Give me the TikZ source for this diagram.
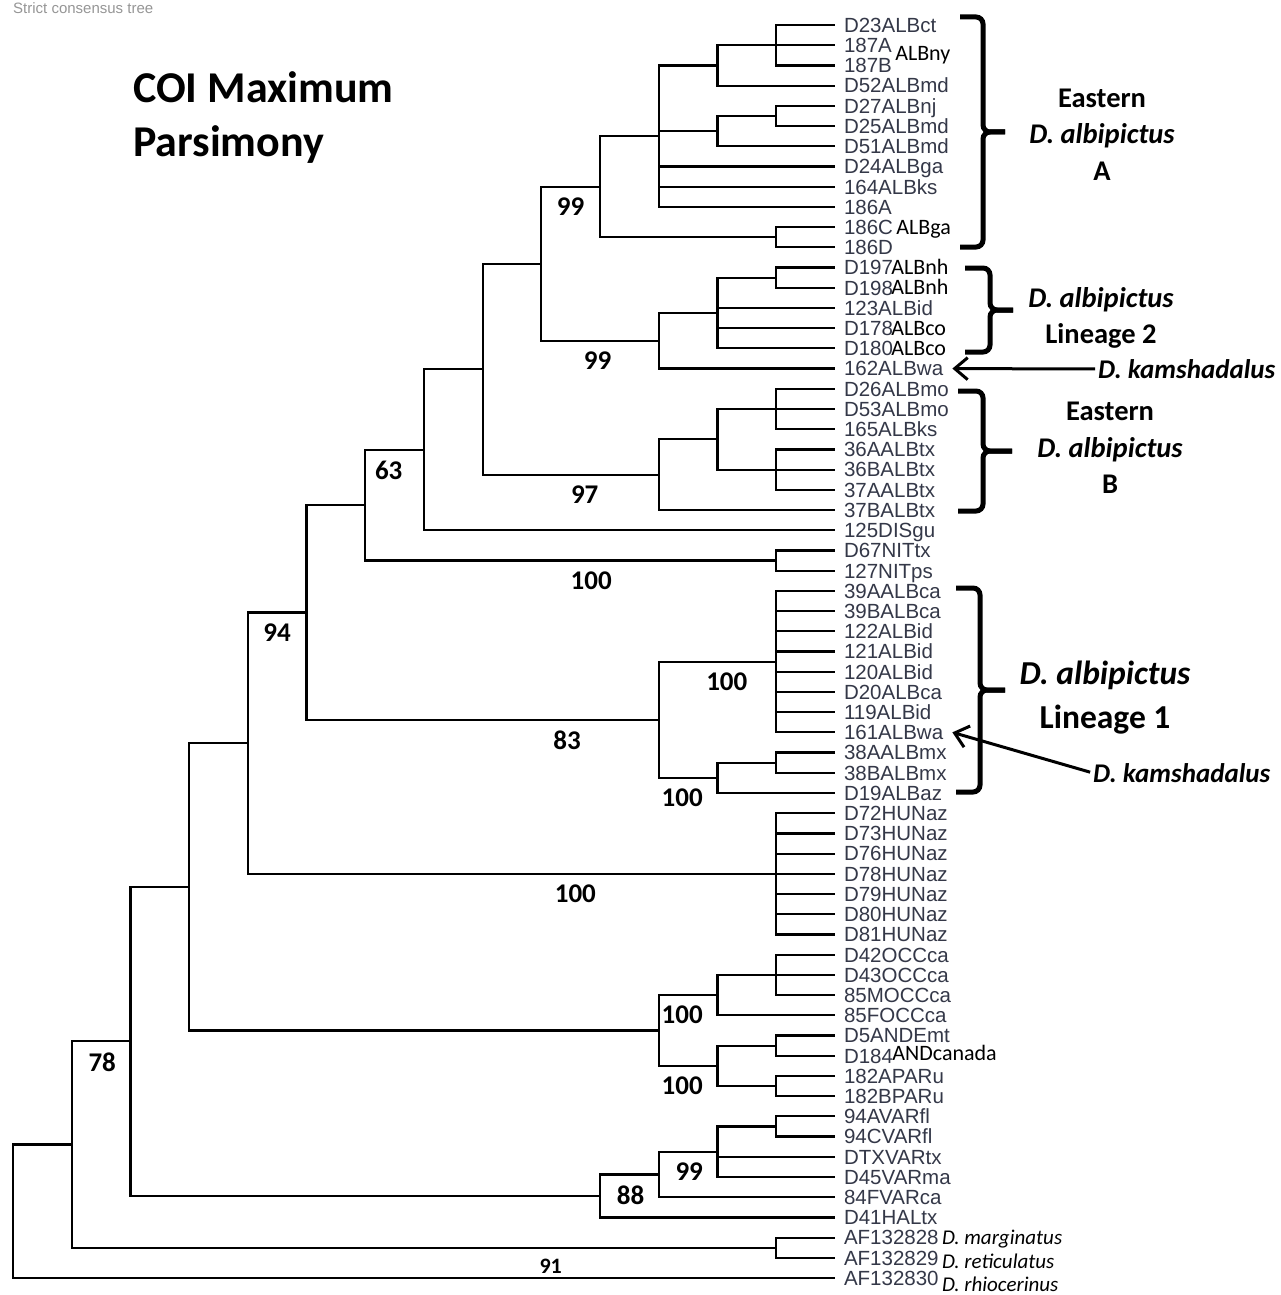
\documentclass[tikz,border=0pt]{standalone}
\usepackage{fontspec}
\setmainfont{Carlito}
\newfontfamily\leaffont{Liberation Sans}
\usetikzlibrary{arrows.meta,positioning}
\definecolor{LeafClr}{RGB}{52,56,72}
\definecolor{FaintClr}{RGB}{150,150,150}

\newcommand\Clade[2]{\foreach \ch in {#2} \draw[branch] (#1) |- (\ch);}
\newcommand\Brace[5]{%
  \draw[brace] (#1,#4) -- (#2,#4) -- (#2,{(#4+#5)/2}) -- (#3,{(#4+#5)/2});
  \draw[brace] (#1,#5) -- (#2,#5) -- (#2,{(#4+#5)/2}) -- (#3,{(#4+#5)/2});}

\begin{document}
\begin{tikzpicture}[x=1pt,y=-1pt,
  branch/.style={line width=2.2pt},
  leaf/.style={anchor=west,inner xsep=9pt,inner ysep=0pt,text height=14.7pt,text depth=0pt,
    text=LeafClr,font=\leaffont\fontsize{20.5}{20.5}\selectfont},
  note/.style={inner sep=0pt,text height=14.2pt,text depth=0pt,font=\fontsize{22}{22}\selectfont},
  species/.style={note,font=\itshape\fontsize{21}{21}\selectfont},
  bs/.style={below=8pt,inner sep=2pt,font=\bfseries\fontsize{27}{27}\selectfont},
  group/.style={align=center,inner sep=0pt,font=\bfseries\fontsize{28.5}{36.5}\selectfont},
  kam/.style={anchor=west,inner sep=0pt,font=\bfseries\itshape\fontsize{27}{27}\selectfont},
  karrow/.style={line width=3pt,shorten <=3pt,-{Straight Barb[length=13pt,width=22pt]}},
  brace/.style={line width=5pt,rounded corners=7pt},
  title/.style={anchor=base west,inner sep=0pt,font=\bfseries\fontsize{44}{44}\selectfont}]

\useasboundingbox (0,0) rectangle (1281,1295);
\fill[white] (0,0) rectangle (1281,1295);

\node[anchor=base west,inner sep=0pt,text=FaintClr,font=\leaffont\fontsize{15}{15}\selectfont]
  (ST) at (13,14) {Strict consensus tree};
\node[title] (T1) at (133,103) {COI Maximum};
\node[title] (T2) at (133,157) {Parsimony};

\begin{scope}[x=58.7pt,y=-20.21pt,shift={(13pt,-4.79pt)}]
% taxa
\foreach \txt [count=\i] in {D23ALBct,187A,187B,D52ALBmd,D27ALBnj,D25ALBmd,D51ALBmd,
  D24ALBga,164ALBks,186A,186C,186D,D197,D198,123ALBid,D178,D180,162ALBwa,
  D26ALBmo,D53ALBmo,165ALBks,36AALBtx,36BALBtx,37AALBtx,37BALBtx,125DISgu,
  D67NITtx,127NITps,39AALBca,39BALBca,122ALBid,121ALBid,120ALBid,D20ALBca,
  119ALBid,161ALBwa,38AALBmx,38BALBmx,D19ALBaz,D72HUNaz,D73HUNaz,D76HUNaz,
  D78HUNaz,D79HUNaz,D80HUNaz,D81HUNaz,D42OCCca,D43OCCca,85MOCCca,85FOCCca,
  D5ANDEmt,D184,182APARu,182BPARu,94AVARfl,94CVARfl,DTXVARtx,D45VARma,
  84FVARca,D41HALtx,AF132828,AF132829,AF132830}
  \node[leaf] (L\i) at (14,\i) {\txt};

% Eastern A
\coordinate (A1) at (13,2);
\coordinate (A2) at (12,3);
\coordinate (A3) at (13,5.5);
\coordinate (A4) at (12,6.25);
\coordinate (A5) at (11,6.5);
\coordinate (A6) at (13,11.5);
\coordinate (A7) at (10,9);
% Lineage 2
\coordinate (B1) at (13,13.5);
\coordinate (B2) at (12,15.25);
\coordinate (B3) at (11,16.625);
% Eastern B
\coordinate (C1) at (13,20);
\coordinate (C2) at (13,23);
\coordinate (C3) at (12,21.5);
\coordinate (C4) at (11,23.25);
\coordinate (D1) at (13,27.5);
% Lineage 1
\coordinate (E1) at (13,32.5);
\coordinate (E2) at (13,37.5);
\coordinate (E3) at (12,38.25);
\coordinate (E4) at (11,35.375);
\coordinate (H1) at (13,43);
% OCC, AND, PAR
\coordinate (F1) at (13,48);
\coordinate (F2) at (12,49);
\coordinate (G1) at (13,51.5);
\coordinate (G2) at (13,53.5);
\coordinate (G3) at (12,52.5);
\coordinate (F3) at (11,50.75);
% VAR, HAL
\coordinate (V1) at (13,55.5);
\coordinate (V2) at (12,56.75);
\coordinate (V3) at (11,57.875);
\coordinate (V4) at (10,58.9375);
\coordinate (W1) at (13,61.5);
% backbone
\coordinate (N9) at (9,12.8125);
\coordinate (N8) at (8,18.03125);
\coordinate (N7) at (7,22.0156);
\coordinate (N6) at (6,24.7578);
\coordinate (N5) at (5,30.0664);
\coordinate (N4) at (4,36.5332);
\coordinate (N3) at (3,43.6416);
\coordinate (N2) at (2,51.2896);
\coordinate (N1) at (1,56.3948);
\coordinate (N0) at (0,59.6974);
\end{scope}

\Clade{A1}{L1,L2,L3}
\Clade{A2}{A1,L4}
\Clade{A3}{L5,L6}
\Clade{A4}{A3,L7}
\Clade{A5}{A2,A4,L8,L9,L10}
\Clade{A6}{L11,L12}
\Clade{A7}{A5,A6}
\Clade{B1}{L13,L14}
\Clade{B2}{B1,L15,L16,L17}
\Clade{B3}{B2,L18}
\Clade{C1}{L19,L20,L21}
\Clade{C2}{L22,L23,L24}
\Clade{C3}{C1,C2}
\Clade{C4}{C3,L25}
\Clade{D1}{L27,L28}
\Clade{E1}{L29,L30,L31,L32,L33,L34,L35,L36}
\Clade{E2}{L37,L38}
\Clade{E3}{E2,L39}
\Clade{H1}{L40,L41,L42,L43,L44,L45,L46}
\Clade{F1}{L47,L48,L49}
\Clade{F2}{F1,L50}
\Clade{G1}{L51,L52}
\Clade{G2}{L53,L54}
\Clade{G3}{G1,G2}
\Clade{V1}{L55,L56}
\Clade{V2}{V1,L57,L58}
\Clade{V4}{L60}
\Clade{V3}{V2,L59}
\Clade{W1}{L61,L62}
\Clade{N7}{L26}
\Clade{N3}{N4}
\Clade{N2}{N3}
\Clade{N0}{N1,L63}

% branches with support values
\draw[branch] (N9) |- (A7) node[bs,pos=.75] {99};
\draw[branch] (N9) |- (B3) node[bs,pos=.74] {99};
\draw[branch] (N8) |- (N9);
\draw[branch] (N8) |- (C4) node[bs,pos=.79] {97};
\draw[branch] (N7) |- (N8);
\draw[branch] (N6) |- (N7) node[bs,pos=.70] {63};
\draw[branch] (N6) |- (D1) node[bs,pos=.775] {100};
\draw[branch] (N5) |- (N6);
\draw[branch] (N5) |- (E4) node[bs,pos=.87] {83};
\draw[branch] (E4) |- (E1) node[bs,pos=.79] {100};
\draw[branch] (E4) |- (E3) node[bs,pos=.70] {100};
\draw[branch] (N4) |- (N5) node[bs,pos=.75] {94};
\draw[branch] (N4) |- (H1) node[bs,pos=.81] {100};
\draw[branch] (N3) |- (F3);
\draw[branch] (F3) |- (F2) node[bs,pos=.70] {100};
\draw[branch] (F3) |- (G3) node[bs,pos=.70] {100};
\draw[branch] (N2) |- (V4);
\draw[branch] (V4) |- (V3) node[bs,pos=.76] {88};
\draw[branch] (V3) |- (V2) node[bs,pos=.76] {99};
\draw[branch] (N1) |- (N2) node[bs,pos=.76] {78};
\draw[branch] (N1) |- (W1) node[bs,pos=.84,font=\bfseries\fontsize{22}{22}\selectfont] {91};

% overlaid label parts
\node[note,right=-6pt of L2,yshift=-8pt] {ALBny};
\node[note,right=-6pt of L11] {ALBga};
\node[note,right=-11pt of L13] {ALBnh};
\node[note,right=-11pt of L14] {ALBnh};
\node[note,right=-11pt of L16] {ALBco};
\node[note,right=-11pt of L17] {ALBco};
\node[note,right=-10pt of L52,yshift=2pt] {ANDcanada};
\node[species,right=-6pt of L61] {D. marginatus};
\node[species,right=-6pt of L62,yshift=-4pt] {D. reticulatus};
\node[species,right=-6pt of L63,yshift=-6pt] {D. rhiocerinus};

% clade braces
\Brace{960}{983}{1005}{17}{247}
\Brace{965}{990}{1013}{268}{352}
\Brace{958}{983}{1012}{391}{511}
\Brace{956}{980}{1005}{588}{792}

\node[group] (GA) at (1102,134.5) {Eastern\\\textit{D. albipictus}\\A};
\node[group] (GL2) at (1101,318) {\textit{D. albipictus}\\Lineage 2};
\node[group] (GB) at (1110,448) {Eastern\\\textit{D. albipictus}\\B};
\node[group,font=\bfseries\fontsize{33.5}{44}\selectfont] (GL1) at (1105,698)
  {\textit{D. albipictus}\\Lineage 1};

\node[kam] (K1) at (1098,369) {D. kamshadalus};
\node[kam] (K2) at (1093,773) {D. kamshadalus};
\draw[karrow] (K1.west) -- (L18.east);
\draw[karrow] (K2.west) -- (L36.east);

\end{tikzpicture}
\end{document}
